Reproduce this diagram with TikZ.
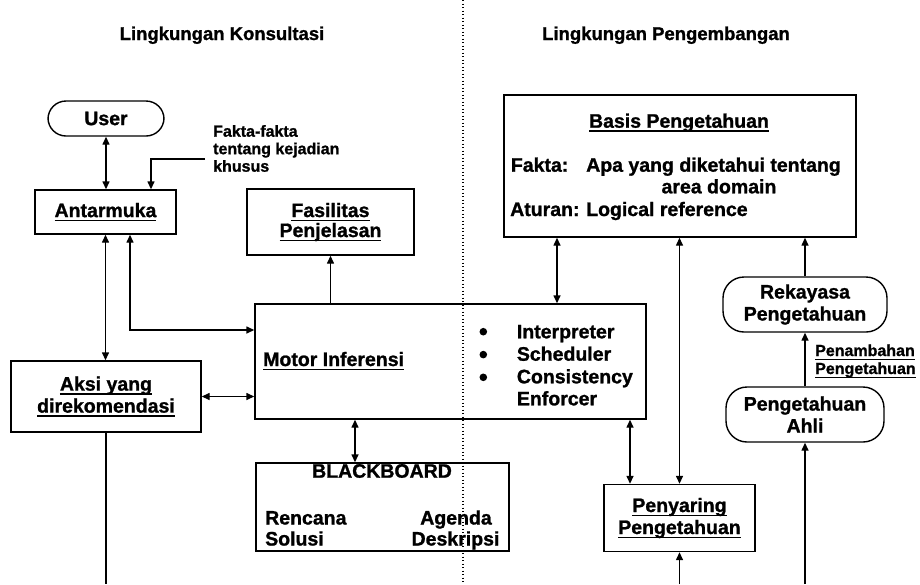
\documentclass[tikz,border=0pt]{standalone}
\usepackage{fontspec}
\setmainfont{Liberation Sans}[BoldFeatures={FakeBold=1.2}]
\usetikzlibrary{arrows.meta}

% underline drawn at a fixed depth below the baseline
\newbox\ulinebox
\newcommand{\ulx}[1]{\setbox\ulinebox\hbox{#1}\rlap{\vrule height -2.6pt depth 3.9pt width \wd\ulinebox}\box\ulinebox}

\tikzset{
  txt/.style={font=\bfseries\fontsize{19.5}{22}\selectfont, inner sep=0pt},
  small/.style={font=\bfseries\fontsize{16}{17.5}\selectfont, inner sep=0pt},
  head/.style={font=\bfseries\fontsize{18.5}{20}\selectfont, inner sep=0pt},
  bulletdot/.style={circle, fill, inner sep=0pt, minimum size=7.6pt},
  box/.style={draw, line width=1.4pt, inner sep=0pt, align=center,
    font=\bfseries\fontsize{19.5}{22}\selectfont},
  pill/.style={box, rounded corners=18pt},
  conn/.style={line width=1.4pt},
  arr/.style={conn, -{Triangle[length=8pt,width=7pt]}},
  dbl/.style={conn, {Triangle[length=8pt,width=7pt]}-{Triangle[length=8pt,width=7pt]}},
}

\begin{document}
\begin{tikzpicture}[x=1pt,y=-1pt]
\useasboundingbox (0,0) rectangle (920,584);

% section headings
\node[head, anchor=base] (hk) at (222,40) {Lingkungan Konsultasi};
\node[head, anchor=base] (hp) at (666,40) {Lingkungan Pengembangan};

% consultation environment
\node[pill, minimum width=116pt, minimum height=35pt] (user) at (106,118.5) {User};
\node[box, minimum width=141pt, minimum height=44pt] (antar) at (105.5,212) {\ulx{Antarmuka}};
\node[box, minimum width=167pt, minimum height=66pt, font=\bfseries\fontsize{19.5}{20}\selectfont] (fas) at (330.5,222) {\ulx{Fasilitas}\\\ulx{Penjelasan}};
\node[box, minimum width=391pt, minimum height=115pt] (motor) at (450.5,361.5) {};
\node[box, minimum width=190pt, minimum height=71pt] (aksi) at (106,396.5) {\ulx{Aksi yang}\\\ulx{direkomendasi}};
\node[box, minimum width=253pt, minimum height=88pt] (bb) at (382.5,507) {};

% annotation above the interface
\node[small, anchor=base west] (fk1) at (213,136.7) {Fakta-fakta};
\node[small, anchor=base west] (fk2) at (213,154.2) {tentang kejadian};
\node[small, anchor=base west] (fk3) at (213,171.7) {khusus};
\coordinate (fk) at (205,159);

% inference engine contents
\node[txt, anchor=base west] (mi) at (263,366) {\ulx{Motor Inferensi}};
\node[bulletdot] (b1) at (483.3,331.7) {};
\node[bulletdot] (b2) at (483.3,354.6) {};
\node[bulletdot] (b3) at (483.3,377.3) {};
\node[txt, anchor=base west] (m1) at (516.7,338.3) {Interpreter};
\node[txt, anchor=base west] (m2) at (516.7,360.7) {Scheduler};
\node[txt, anchor=base west] (m3) at (516.7,383.3) {Consistency};
\node[txt, anchor=base west] (m4) at (516.7,405.3) {Enforcer};

% blackboard contents
\node[txt, anchor=base] (bbt) at (382,477.7) {BLACKBOARD};
\node[txt, anchor=base west] (bb1) at (265,524.5) {Rencana};
\node[txt, anchor=base west] (bb2) at (265,545.5) {Solusi};
\node[txt, anchor=base] (bb3) at (456,524.5) {Agenda};
\node[txt, anchor=base] (bb4) at (455.5,545.5) {Deskripsi};

% development environment
\node[box, minimum width=352pt, minimum height=142pt] (basis) at (680,166) {};
\node[txt, anchor=base] (bp) at (679,127.7) {\ulx{Basis Pengetahuan}};
\node[txt, anchor=base west] (bf) at (510.7,171.7) {Fakta:};
\node[txt, anchor=base west] (bf2) at (586,171.7) {Apa yang diketahui tentang};
\node[txt, anchor=base] (bf3) at (719,193.3) {area domain};
\node[txt, anchor=base west] (ba) at (510,216) {Aturan:};
\node[txt, anchor=base west] (ba2) at (586,216) {Logical reference};

\node[box, minimum width=151pt, minimum height=67pt] (pen) at (679.5,518) {\ulx{Penyaring}\\\ulx{Pengetahuan}};
\node[pill, rounded corners=21pt, minimum width=164pt, minimum height=55pt] (rek) at (805,304.5) {Rekayasa\\Pengetahuan};
\node[pill, rounded corners=21pt, minimum width=158pt, minimum height=55pt] (ahli) at (805,414.5) {Pengetahuan\\Ahli};
\node[small, anchor=base west] (pn1) at (815,356) {\ulx{Penambahan}};
\node[small, anchor=base west] (pn2) at (815,374) {\ulx{Pengetahuan}};

% loose ends at the lower edge and bend points
\coordinate (aksiout) at (106,584);
\coordinate (penin) at (679.5,584);
\coordinate (ahliin) at (805,584);
\coordinate (bendA) at (130,330);
\coordinate (xbb) at (355,0);
\coordinate (xpen) at (630,0);
\coordinate (xbas) at (557,0);
\coordinate (xfk) at (151,0);

% connectors
\draw[dbl] (user.south) -- (user.south |- antar.north);
\draw[arr] (fk) -| (xfk |- antar.north);
\draw[dbl] (antar.south) -- (antar.south |- aksi.north);
\draw[dbl] (antar.south -| bendA) |- (motor.west |- bendA);
\draw[dbl] (aksi.east) -- (aksi.east -| motor.west);
\draw[conn] (aksi.south) -- (aksiout);
\draw[arr] (motor.north -| fas.south) -- (fas.south);
\draw[dbl] (motor.south -| xbb) -- (bb.north -| xbb);
\draw[dbl] (basis.south -| xbas) -- (motor.north -| xbas);
\draw[dbl] (motor.south -| xpen) -- (pen.north -| xpen);
\draw[dbl] (basis.south -| pen.north) -- (pen.north);
\draw[arr] (penin) -- (pen.south);
\draw[arr] (rek.north) -- (rek.north |- basis.south);
\draw[arr] (ahli.north) -- (rek.south);
\draw[arr] (ahliin) -- (ahli.south);

% dotted divider between the two environments
\draw[line width=1.2pt, dash pattern=on 1.3pt off 2.2pt] (463,0) -- (463,584);
\end{tikzpicture}
\end{document}
